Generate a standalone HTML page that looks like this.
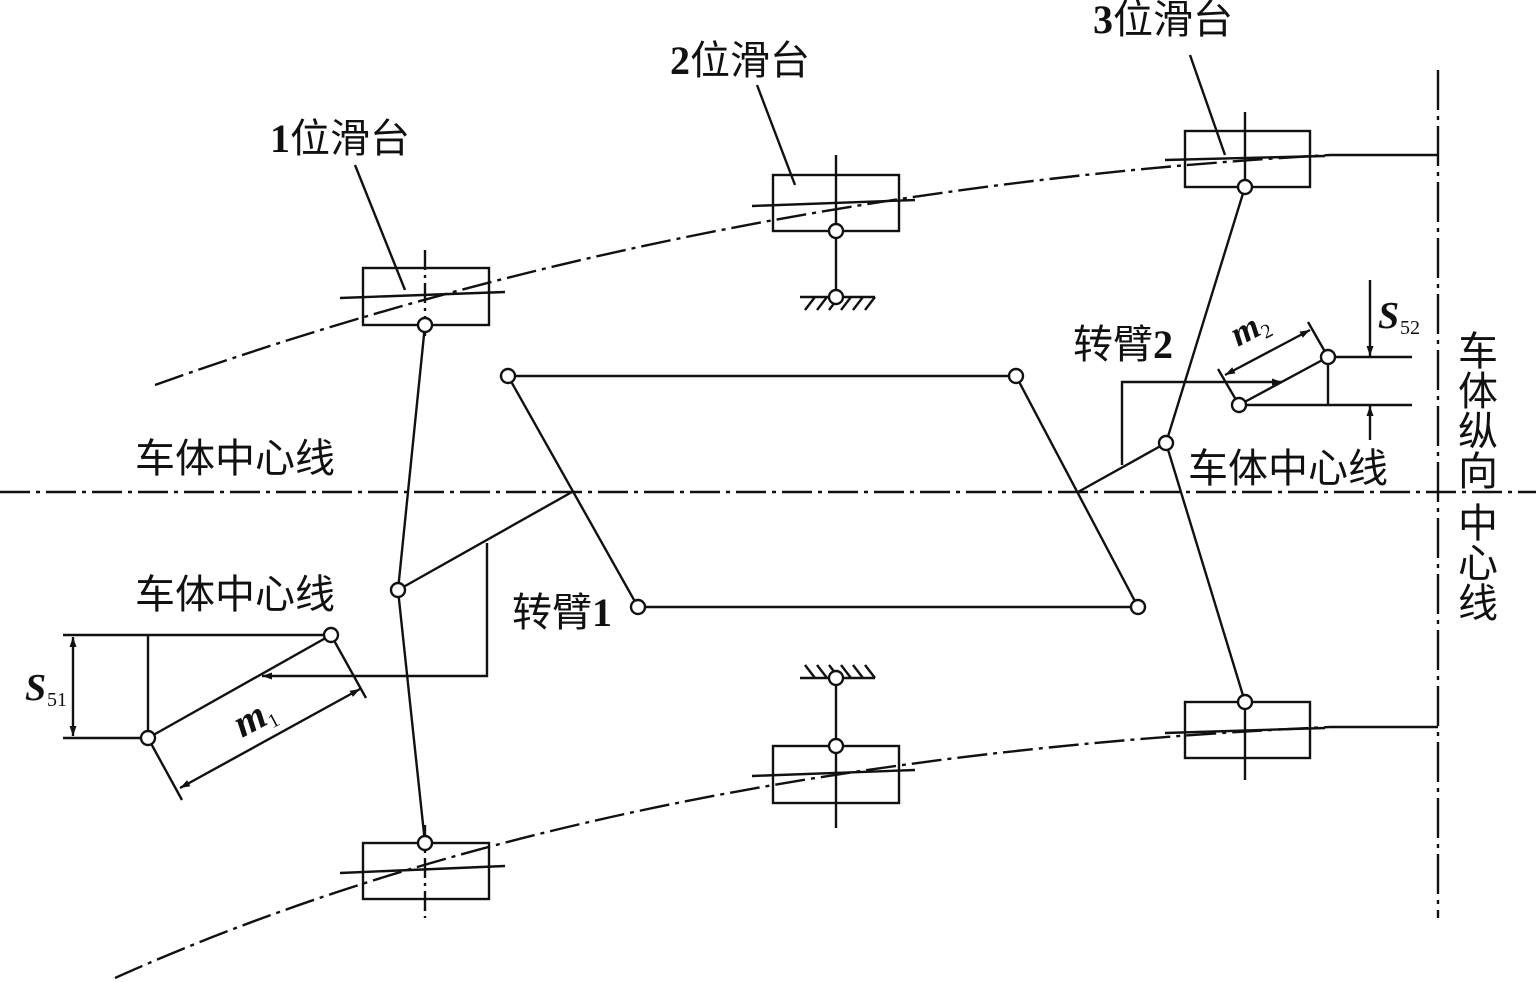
<!DOCTYPE html>
<html><head><meta charset="utf-8"><style>
html,body{margin:0;padding:0;background:#fff;width:1536px;height:982px;overflow:hidden}
text{font-family:"Liberation Serif","Noto Sans CJK SC",serif;fill:#111}
.c{font-family:"Liberation Serif","Noto Sans CJK SC",sans-serif;font-size:40px}
</style></head><body>
<svg width="1536" height="982" viewBox="0 0 1536 982" xmlns="http://www.w3.org/2000/svg">
<defs>
<marker id="a" viewBox="0 0 10 10" refX="10" refY="5" markerWidth="16" markerHeight="10" orient="auto-start-reverse" markerUnits="userSpaceOnUse"><path d="M0,1.5L10,5L0,8.5z" fill="#111"/></marker>
</defs>
<g stroke="#111" stroke-width="2.4" fill="none">
<line x1="0" y1="492" x2="1536" y2="492" stroke-dasharray="30,6,4,6"/>
<line x1="1438" y1="70" x2="1438" y2="918" stroke-dasharray="40,6,4,6"/>
<path d="M155,385 Q700,190 1330,155" stroke-dasharray="30,6,4,6"/>
<path d="M1330,155 L1438,155"/>
<path d="M115,978 Q600,760 1330,727" stroke-dasharray="30,6,4,6"/>
<path d="M1330,727 L1438,727"/>
<rect x="363" y="268" width="126" height="57"/><line x1="425" y1="250" x2="425" y2="340" stroke-dasharray="20,5,3,5"/><line x1="340" y1="298" x2="505" y2="292"/>
<rect x="773" y="175" width="126" height="56"/><line x1="836" y1="155" x2="836" y2="231"/><line x1="752" y1="206" x2="915" y2="200"/>
<rect x="1185" y="131" width="125" height="56"/><line x1="1245" y1="112" x2="1245" y2="187"/><line x1="1165" y1="160" x2="1325" y2="156"/>
<rect x="363" y="843" width="126" height="56"/><line x1="425" y1="825" x2="425" y2="918" stroke-dasharray="20,5,3,5"/><line x1="340" y1="873" x2="505" y2="866"/>
<rect x="773" y="746" width="126" height="57"/><line x1="836" y1="746" x2="836" y2="828"/><line x1="752" y1="776" x2="915" y2="770"/>
<rect x="1185" y="702" width="125" height="56"/><line x1="1245" y1="702" x2="1245" y2="780"/><line x1="1165" y1="733" x2="1325" y2="728"/>
<line x1="836" y1="231" x2="836" y2="297"/><line x1="800" y1="297" x2="875" y2="297"/>
<path d="M805,310l10,-13M817,310l10,-13M829,310l10,-13M841,310l10,-13M853,310l10,-13M865,310l10,-13"/>
<line x1="836" y1="678" x2="836" y2="746"/><line x1="800" y1="678" x2="875" y2="678"/>
<path d="M805,665l10,13M817,665l10,13M829,665l10,13M841,665l10,13M853,665l10,13M865,665l10,13"/>
<polyline points="425,325 398,590 425,843"/>
<polyline points="1245,187 1166,443 1245,702"/>
<polygon points="508,376 1016,376 1138,607 638,607"/>
<line x1="398" y1="590" x2="572" y2="492"/>
<line x1="1078" y1="492" x2="1166" y2="443"/>
<polyline points="487,543 487,676 262,676" marker-end="url(#a)"/>
<line x1="63" y1="635" x2="331" y2="635"/><line x1="63" y1="738" x2="148" y2="738"/>
<line x1="148" y1="635" x2="148" y2="738"/><line x1="331" y1="635" x2="148" y2="738"/>
<line x1="73" y1="637" x2="73" y2="736" marker-start="url(#a)" marker-end="url(#a)"/>
<line x1="331" y1="635" x2="366" y2="698"/><line x1="148" y1="738" x2="182" y2="800"/>
<line x1="180" y1="788" x2="360" y2="689" marker-start="url(#a)" marker-end="url(#a)"/>
<polyline points="1122,465 1122,382 1282,382" marker-end="url(#a)"/>
<line x1="1239" y1="405" x2="1412" y2="405"/><line x1="1328" y1="357" x2="1412" y2="357"/>
<line x1="1328" y1="357" x2="1328" y2="405"/><line x1="1239" y1="405" x2="1328" y2="357"/>
<line x1="1370" y1="280" x2="1370" y2="356" marker-end="url(#a)"/><line x1="1370" y1="440" x2="1370" y2="406" marker-end="url(#a)"/>
<line x1="1239" y1="405" x2="1218" y2="369"/><line x1="1328" y1="357" x2="1308" y2="322"/>
<line x1="1225" y1="375" x2="1310" y2="330" marker-start="url(#a)" marker-end="url(#a)"/>
<line x1="355" y1="165" x2="405" y2="290"/><line x1="757" y1="85" x2="795" y2="185"/><line x1="1190" y1="55" x2="1225" y2="155"/>
</g>
<g stroke="#111" stroke-width="2.4" fill="#fff">
<circle cx="425" cy="325" r="7"/><circle cx="836" cy="231" r="7"/><circle cx="836" cy="297" r="7"/><circle cx="1245" cy="187" r="7"/>
<circle cx="425" cy="843" r="7"/><circle cx="836" cy="746" r="7"/><circle cx="836" cy="678" r="7"/><circle cx="1245" cy="702" r="7"/>
<circle cx="398" cy="590" r="7"/><circle cx="1166" cy="443" r="7"/>
<circle cx="508" cy="376" r="7"/><circle cx="1016" cy="376" r="7"/><circle cx="1138" cy="607" r="7"/><circle cx="638" cy="607" r="7"/>
<circle cx="331" cy="635" r="7"/><circle cx="148" cy="738" r="7"/><circle cx="1239" cy="405" r="7"/><circle cx="1328" cy="357" r="7"/>
</g>
<text class="c" x="270" y="152"><tspan font-weight="bold">1</tspan>位滑台</text>
<text class="c" x="670" y="74"><tspan font-weight="bold">2</tspan>位滑台</text>
<text class="c" x="1093" y="33"><tspan font-weight="bold">3</tspan>位滑台</text>
<text class="c" x="135" y="472">车体中心线</text>
<text class="c" x="135" y="608">车体中心线</text>
<text class="c" x="1188" y="482">车体中心线</text>
<text class="c" x="512" y="626">转臂<tspan font-weight="bold">1</tspan></text>
<text class="c" x="1073" y="358">转臂<tspan font-weight="bold">2</tspan></text>
<text class="c" x="1458" y="365">车</text><text class="c" x="1458" y="405">体</text><text class="c" x="1458" y="445">纵</text><text class="c" x="1458" y="485">向</text>
<text class="c" x="1458" y="537">中</text><text class="c" x="1458" y="577">心</text><text class="c" x="1458" y="617">线</text>
<text x="25" y="700" font-size="38" font-style="italic" font-weight="bold">S</text><text x="47" y="706" font-size="20">51</text>
<text x="1378" y="328" font-size="38" font-style="italic" font-weight="bold">S</text><text x="1400" y="334" font-size="20">52</text>
<text x="0" y="0" font-size="40" font-style="italic" font-weight="bold" transform="translate(242,738) rotate(-28)">m<tspan font-size="20" font-style="normal" font-weight="normal" dy="6">1</tspan></text>
<text x="0" y="0" font-size="36" font-style="italic" font-weight="bold" transform="translate(1238,347) rotate(-28)">m<tspan font-size="20" font-style="normal" font-weight="normal" dy="6">2</tspan></text>
</svg>
</body></html>
